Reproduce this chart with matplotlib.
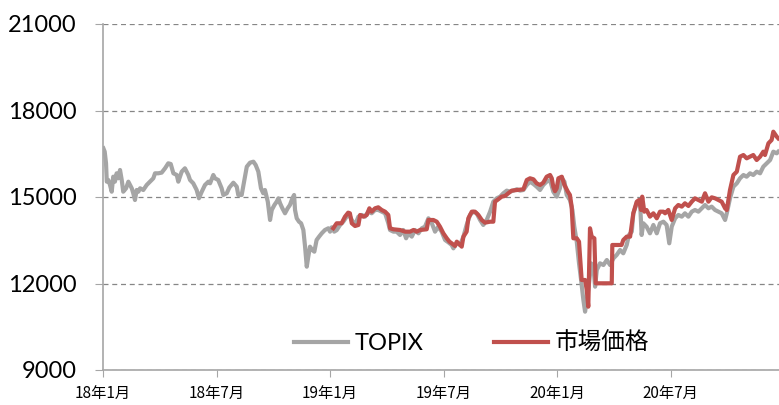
import matplotlib
matplotlib.use("Agg")
import matplotlib.pyplot as plt

plt.rcParams['font.family'] = ['Lato', 'Noto Sans CJK JP', 'DejaVu Sans']

# months since Jan 2018
topix_x = [0.02, 0.09, 0.16, 0.20, 0.28, 0.37, 0.46, 0.54, 0.63, 0.72, 0.81, 0.90, 0.99, 1.07, 1.22, 1.34,
           1.52, 1.60, 1.69, 1.78, 1.87, 1.96, 2.13, 2.31, 2.48, 2.66, 2.75, 2.92, 3.10, 3.28, 3.45, 3.58,
           3.72, 3.90, 3.98, 4.16, 4.33, 4.51, 4.60, 4.77, 4.95, 5.07, 5.22, 5.39, 5.57, 5.66, 5.83, 5.92,
           6.09, 6.27, 6.36, 6.54, 6.68, 6.89, 7.07, 7.15, 7.33, 7.47, 7.60, 7.77, 7.95, 8.07, 8.21, 8.35,
           8.47, 8.56, 8.71, 8.83, 8.92, 9.06, 9.18, 9.27, 9.36, 9.48, 9.62, 9.76, 9.88, 10.01, 10.10, 10.15,
           10.24, 10.36, 10.47, 10.59, 10.68, 10.77, 10.85, 10.94, 11.06, 11.17, 11.29, 11.42, 11.56, 11.73,
           11.91, 12.00, 12.09, 12.17, 12.22, 12.35, 12.53, 12.70, 12.88, 12.96, 13.15, 13.32, 13.50, 13.68,
           13.85, 14.02, 14.20, 14.38, 14.55, 14.73, 14.91, 15.08, 15.17, 15.35, 15.52, 15.70, 15.87, 16.02,
           16.14, 16.32, 16.49, 16.67, 16.85, 17.02, 17.20, 17.38, 17.55, 17.72, 17.90, 18.08, 18.25, 18.43,
           18.52, 18.70, 18.87, 19.05, 19.22, 19.40, 19.57, 19.75, 19.93, 20.10, 20.28, 20.46, 20.63, 20.81,
           20.99, 21.16, 21.34, 21.51, 21.69, 21.87, 22.04, 22.22, 22.40, 22.57, 22.75, 22.92, 23.10, 23.27,
           23.45, 23.63, 23.80, 23.98, 24.15, 24.25, 24.39, 24.51, 24.68, 24.81, 24.91, 25.04, 25.16, 25.27,
           25.39, 25.48, 25.60, 25.71, 25.80, 25.92, 26.01, 26.10, 26.27, 26.45, 26.63, 26.80, 26.98, 27.15,
           27.33, 27.50, 27.68, 27.80, 27.95, 28.03, 28.21, 28.38, 28.47, 28.56, 28.73, 28.91, 29.09, 29.27,
           29.44, 29.62, 29.79, 29.93, 30.06, 30.24, 30.41, 30.59, 30.76, 30.94, 31.12, 31.29, 31.47, 31.65,
           31.82, 32.00, 32.17, 32.35, 32.53, 32.70, 32.88, 32.97, 33.14, 33.32, 33.50, 33.67, 33.85, 34.02,
           34.20, 34.37, 34.55, 34.73, 34.90, 35.08, 35.26, 35.43, 35.61, 35.69]
topix_y = [16689, 16572, 16169, 15531, 15590, 15417, 15184, 15704, 15531, 15822, 15649, 15937, 15590, 15184, 15302, 15531,
           15302, 15129, 14896, 15243, 15184, 15302, 15243, 15417, 15531, 15649, 15822, 15822, 15845, 15996, 16169, 16145,
           15822, 15763, 15531, 15879, 15996, 15763, 15590, 15475, 15243, 14955, 15184, 15417, 15531, 15475, 15763, 15649,
           15590, 15302, 15070, 15129, 15330, 15496, 15358, 15070, 15070, 15590, 16051, 16190, 16225, 16110, 15879, 15302,
           15129, 15243, 14838, 14203, 14550, 14723, 14838, 14955, 14782, 14608, 14435, 14608, 14723, 14955, 15070, 14550,
           14261, 14144, 14088, 13856, 13277, 12583, 12930, 13277, 13162, 13104, 13509, 13625, 13740, 13856,
           13915, 13798, 13949, 13915, 13798, 13850, 14030, 14144, 14318, 14435, 14203, 14030, 14318, 14377,
           14318, 14491, 14435, 14550, 14550, 14491, 14435, 14088, 13856, 13798, 13798, 13683, 13856, 13568,
           13740, 13625, 13856, 13740, 13915, 13972, 14261, 14088, 13798, 13972, 13798, 13509, 13430, 13336,
           13220, 13416, 13336, 13625, 14030, 14377, 14491, 14435, 14203, 14030, 14203, 14491, 14838, 14955,
           15012, 15129, 15221, 15184, 15221, 15268, 15221, 15243, 15417, 15531, 15452, 15358, 15243, 15417,
           15531, 15590, 15184, 15012, 15302, 15649, 15531, 15070, 14896, 14550, 13972, 13452, 12700, 12122,
           11428, 11023, 11543, 12122, 12700, 12583, 11890, 12469, 12700, 12642, 12815, 12642, 12874, 12989,
           13162, 13047, 13336, 13683, 13798, 14435, 14782, 14896, 13683, 14088, 13972, 13740, 14030, 13740,
           14088, 14144, 14030, 13394, 13972, 14261, 14377, 14318, 14435, 14318, 14491, 14550, 14491, 14608,
           14723, 14608, 14666, 14550, 14491, 14435, 14203, 14435, 14955, 15358, 15475, 15649, 15763, 15704,
           15822, 15763, 15879, 15822, 16051, 16169, 16283, 16572, 16514, 16572]

market_x = [12.17, 12.35, 12.61, 12.79, 12.96, 13.05, 13.15, 13.32, 13.50, 13.59, 13.76, 13.94, 14.08, 14.20,
            14.38, 14.55, 14.73, 14.91, 15.08, 15.17, 15.35, 15.70, 15.97, 16.23, 16.41, 16.58, 16.76, 17.11,
            17.20, 17.46, 17.64, 17.81, 17.99, 18.17, 18.31, 18.43, 18.61, 18.70, 18.87, 18.96, 19.05, 19.22,
            19.31, 19.49, 19.66, 19.84, 20.02, 20.19, 20.46, 20.63, 20.72, 20.89, 21.07, 21.25, 21.42, 21.60,
            21.87, 22.22, 22.40, 22.57, 22.75, 22.92, 23.10, 23.27, 23.45, 23.63, 23.72, 23.80, 23.89, 23.98,
            24.07, 24.25, 24.39, 24.57, 24.68, 24.77, 24.86, 25.04, 25.16, 25.30, 25.48, 25.57, 25.65, 25.74,
            25.83, 25.97, 26.04, 26.89, 26.92, 27.41, 27.50, 27.68, 27.86, 28.03, 28.21, 28.33, 28.44, 28.50,
            28.61, 28.73, 28.91, 29.09, 29.27, 29.44, 29.62, 29.71, 29.88, 30.06, 30.24, 30.41, 30.59, 30.76,
            30.94, 31.12, 31.29, 31.47, 31.65, 31.82, 32.00, 32.17, 32.35, 32.53, 32.70, 32.88, 32.97, 33.14,
            33.32, 33.50, 33.67, 33.85, 34.02, 34.20, 34.37, 34.55, 34.73, 34.90, 34.99, 35.17, 35.34, 35.43,
            35.61, 35.69]
market_y = [13915, 14088, 14088, 14318, 14458, 14435, 14088, 13994, 14030, 14377, 14318, 14377, 14608, 14491,
            14608, 14643, 14550, 14491, 14377, 13915, 13880, 13856, 13798, 13798, 13856, 13798, 13856, 13880,
            14203, 14203, 14144, 13972, 13740, 13568, 13452, 13394, 13301, 13452, 13336, 13278, 13625, 13798,
            14261, 14491, 14491, 14377, 14203, 14110, 14144, 14144, 14838, 14919, 15012, 15035, 15129, 15221,
            15243, 15268, 15590, 15649, 15614, 15475, 15417, 15496, 15704, 15763, 15649, 15358, 15200, 15302,
            15649, 15704, 15417, 15184, 15070, 14666, 13568, 13568, 13452, 12122, 12122, 11775, 11196, 13915,
            13625, 13568, 12007, 12007, 13336, 13336, 13509, 13625, 13625, 14435, 14838, 14896, 14550, 15012,
            14491, 14550, 14318, 14435, 14261, 14491, 14491, 14435, 14550, 14203, 14608, 14723, 14666, 14782,
            14689, 14838, 14955, 14896, 14838, 15129, 14838, 14989, 14955, 14896, 14838, 14608, 14550, 15243,
            15763, 15879, 16398, 16456, 16341, 16398, 16456, 16283, 16398, 16572, 16456, 16862, 16977, 17265,
            17092, 17034]

tick_pos = [0, 6, 12, 18, 24, 30]
tick_labels = ['18年1月', '18年7月', '19年1月', '19年7月', '20年1月', '20年7月']

fig = plt.figure(figsize=(7.79, 4.05), dpi=100)
ax = fig.add_axes([103 / 779, 1 - 370 / 405, 676 / 779, 346 / 405])

ax.plot(topix_x, topix_y, color='#A5A5A5', lw=3.0, label='TOPIX', solid_joinstyle='round')
ax.plot(market_x, market_y, color='#C0504D', lw=3.0, label='市場価格', solid_joinstyle='round')

ax.set_xlim(0, 35.73)
ax.set_ylim(9000, 21000)
ax.set_yticks([9000, 12000, 15000, 18000, 21000])
ax.set_xticks(tick_pos)
ax.set_xticklabels(tick_labels, fontsize=11, family=['Noto Sans CJK JP'])
ax.tick_params(axis='y', labelsize=17, length=6, color='#A6A6A6', pad=13)
ax.tick_params(axis='x', length=5, color='#A6A6A6', pad=6)

ax.grid(axis='y', color='#868686', linestyle=(0, (4, 3)), lw=0.9)
ax.set_axisbelow(True)
for s in ['top', 'right']:
    ax.spines[s].set_visible(False)
for s in ['left', 'bottom']:
    ax.spines[s].set_color('#A6A6A6')
    ax.spines[s].set_linewidth(1.2)

ax.legend(loc='center', bbox_to_anchor=(0.545, 0.078), ncol=2, frameon=False,
          fontsize=17, handlelength=2.3, handletextpad=0.25, columnspacing=3.0)

fig.savefig('out.png', dpi=100)
